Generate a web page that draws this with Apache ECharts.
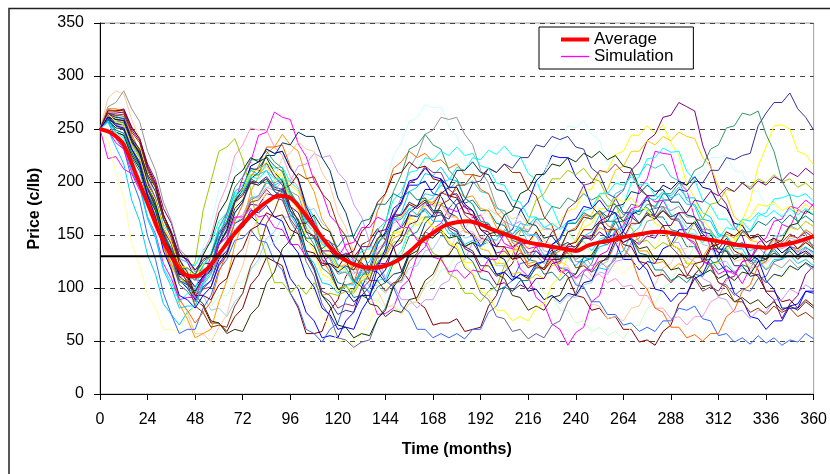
<!DOCTYPE html>
<html>
<head>
<meta charset="utf-8">
<script src="https://cdn.jsdelivr.net/npm/echarts@6/dist/echarts.min.js"></script>
<style>
  html, body { margin: 0; padding: 0; background: #fff; }
  #chart { width: 830px; height: 474px; }
</style>
</head>
<body>
<div id="chart"></div>
<script>
// months of the simulated paths (read every 4 months)
var months = [0,4,8,12,16,20,24,28,32,36,40,44,48,52,56,60,64,68,72,76,80,84,88,92,96,100,104,108,112,116,
  120,124,128,132,136,140,144,148,152,156,160,164,168,172,176,180,184,188,192,196,200,204,208,212,216,220,224,228,232,236,
  240,244,248,252,256,260,264,268,272,276,280,284,288,292,296,300,304,308,312,316,320,324,328,332,336,340,344,348,352,356,360];

// average path (read every 6 months)
var avgMonths = [0,6,12,18,24,30,36,42,48,54,60,66,72,78,84,90,96,102,108,114,120,126,132,138,144,150,156,162,168,174,
  180,186,192,198,204,210,216,222,228,234,240,246,252,258,264,270,276,282,288,294,300,306,312,318,324,330,336,342,348,354,360];
var average = [250,246,235,208,180,152,130,114,111,118,132,147,160,172,181,187,185,173,158,143,
  131,124,120,119,121,126,134,144,152,159,162,163,160,155,151,147,143,141,139,137,
  135,140,143,145,148,150,152,153,152,150,148,146,144,142,140,139,138,140,142,145,149];

var longRun = 130;

// simulated price paths, c/lb
var sim01 = [250,222,224,212,208,192,188,166,155,134, 128,111,108,106,131,144,171,181,204,219, 244,247,266,261,259,236,224,201,190,168,
  160,137,126,104,95,75,76,81,101,108, 131,139,156,161,175,172,178,166,169,156, 155,142,138,118,111,91,85,66,61,46,
  58,63,87,93,120,127,155,163,193,203, 229,227,226,200,192,166,162,137,134,115, 116,104,119,120,137,140,160,157,174,170, 180];
var sim02 = [250,261,258,257,239,233,207,196,166,151, 124,113,95,99,101,122,130,152,158,180, 185,201,200,211,197,191,168,161,139,134,
  118,117,107,111,112,129,135,151,153,166, 163,168,157,155,141,140,124,124,114,123, 121,134,135,139,138,154,155,157,163,173,
  175,192,193,209,211,226,229,244,244,253, 246,254,237,225,197,185,165,155,137,137, 139,164,182,215,233,253,254,250,229,226, 216];
var sim03 = [250,265,256,252,233,221,195,184,160,149, 128,124,121,136,143,163,171,189,192,207, 206,217,213,214,200,193,175,166,146,140,
  122,119,105,105,96,107,109,127,135,155, 163,181,185,200,202,214,211,223,221,230, 226,234,225,224,208,202,183,177,159,154,
  143,144,135,146,149,169,178,199,205,222, 223,232,228,229,210,202,183,178,165,165, 155,163,154,168,171,184,185,188,186,189, 181];
var sim04 = [250,268,267,269,252,241,217,202,175,161, 135,125,109,111,115,134,143,161,165,179, 178,189,187,194,183,180,165,163,147,144,
  132,131,121,124,115,123,123,138,143,160, 163,177,179,190,187,189,176,173,160,160, 149,151,139,143,133,135,127,136,126,137,
  137,149,149,163,167,185,192,211,219,239, 245,261,263,275,271,267,235,215,189,179, 158,149,127,117,96,89,71,85,93,113, 121];
var sim05 = [250,262,253,250,229,217,192,179,154,142, 119,109,89,83,67,67,59,73,81,103, 112,129,125,121,95,81,57,57,59,79,
  89,111,121,141,145,156,145,139,117,107, 87,81,65,67,67,71,59,61,63,83, 93,115,123,141,143,153,141,137,117,111,
  93,91,79,81,71,73,61,61,49,51, 46,59,65,85,93,113,121,137,137,147, 135,131,115,111,97,97,87,89,81,89, 83];
var sim06 = [250,259,247,244,223,210,185,171,144,131, 109,104,95,109,119,145,159,183,193,211, 213,224,215,210,189,179,157,147,127,121,
  105,103,91,93,89,101,105,123,131,149, 153,167,167,178,175,184,180,183,173,173, 161,159,145,142,127,125,113,115,107,115,
  113,125,128,143,147,162,163,175,172,176, 167,167,155,153,139,139,127,127,117,121, 114,122,119,129,127,137,129,139,131,138, 134];
var sim07 = [250,264,254,249,228,215,189,174,147,131, 107,100,89,101,107,127,135,153,157,168, 161,159,140,131,109,99,77,69,53,55,
  53,69,77,101,115,141,153,175,181,197, 197,201,189,187,171,167,153,151,140,143, 139,151,155,173,181,201,209,225,223,223,
  205,197,177,169,149,143,127,127,117,125, 123,137,141,155,155,163,151,145,125,115, 95,89,73,71,61,69,69,83,85,97, 95];
var sim08 = [250,249,233,217,183,163,131,113,85,75, 65,77,83,103,113,133,141,161,167,185, 187,199,197,201,187,181,161,153,135,129,
  115,115,105,113,115,133,141,163,171,191, 195,208,206,214,203,201,185,179,163,161, 149,153,150,161,159,167,157,155,141,139,
  125,125,115,119,117,131,135,151,157,173, 175,189,187,195,185,185,171,167,151,149, 137,137,125,127,117,127,127,137,134,139, 132];
var sim09 = [250,263,259,255,235,221,193,175,145,127, 107,107,109,139,161,193,203,215,205,199, 177,168,149,145,131,131,119,119,107,107,
  99,109,113,135,149,179,197,225,237,257, 261,273,270,271,253,243,221,211,189,181, 163,161,157,171,177,197,207,229,237,253,
  251,258,245,239,217,207,187,181,165,163, 153,163,165,183,189,205,209,223,223,225, 211,209,193,191,177,179,169,173,165,173, 169];
var sim10 = [250,258,249,246,225,213,187,171,143,127, 103,97,83,87,83,93,93,105,105,119, 123,139,143,157,155,163,155,155,141,137,
  121,117,101,99,87,89,81,85,77,87, 87,101,103,117,119,133,133,143,139,143, 135,139,127,125,111,109,95,93,79,79,
  67,69,59,63,55,59,52,63,65,81, 85,101,105,121,125,141,143,153,149,151, 139,139,127,129,119,123,115,121,117,123, 118];
var sim11 = [250,239,209,185,142,121,93,81,61,61, 59,75,83,105,115,137,145,163,167,181, 181,189,179,173,151,137,111,97,73,63,
  49,51,46,59,67,89,99,121,131,153, 161,177,177,187,179,179,165,161,145,143, 131,133,125,133,131,143,143,153,149,153,
  143,143,131,131,119,121,113,121,121,135, 137,153,157,171,171,179,171,171,157,153, 137,133,119,119,109,113,109,119,117,127, 123];
var sim12 = [250,260,257,256,237,227,203,191,165,151, 127,117,97,93,79,81,73,87,95,117, 127,147,153,167,167,177,173,175,161,155,
  137,131,115,113,101,103,95,105,105,119, 121,135,137,149,147,155,147,149,137,135, 121,121,109,109,97,99,89,93,85,93,
  91,103,105,121,125,141,145,159,161,171, 167,175,167,169,157,155,141,139,125,125, 115,119,115,125,125,137,137,147,145,153, 148];
var sim13 = [250,260,254,252,232,219,191,173,145,131, 111,111,111,133,149,179,197,225,235,251, 249,249,233,225,205,195,173,163,143,137,
  121,121,113,121,121,137,143,161,165,179, 177,185,177,179,167,167,153,153,143,147, 141,149,147,157,155,163,155,155,141,139,
  125,123,111,113,105,109,101,103,93,93, 81,81,71,73,65,73,73,87,91,107, 111,125,127,139,137,145,137,141,133,137, 130];
var sim14 = [250,263,259,255,235,223,197,183,157,145, 127,125,115,123,125,141,147,165,169,185, 185,195,192,201,201,215,217,227,223,225,
  209,201,179,167,143,131,109,103,89,89, 81,89,89,103,107,123,127,143,145,157, 155,163,159,163,151,149,135,133,119,119,
  109,113,107,115,113,125,127,141,143,153, 149,153,143,143,129,125,109,105,91,89, 77,79,71,79,77,89,89,99,95,103, 98];
var sim15 = [250,279,286,283,259,241,207,183,147,123, 91,77,57,57,49,63,75,103,121,151, 167,193,203,223,227,238,231,229,209,197,
  171,157,133,123,103,97,83,83,75,85, 87,103,109,127,133,151,155,169,167,175, 169,173,165,169,159,159,145,141,125,121,
  105,101,85,83,71,73,69,81,83,99, 103,119,123,137,137,147,143,147,137,137, 125,127,119,127,123,131,127,133,127,134, 127];
var sim16 = [250,257,241,231,203,183,149,127,95,75, 57,61,61,81,93,117,127,145,147,155, 145,143,125,117,95,83,61,57,49,61,
  67,89,99,117,117,121,107,101,83,77, 61,61,53,57,53,57,52,61,61,77, 83,101,107,123,125,135,129,131,119,117,
  103,101,87,87,75,75,65,67,59,63, 59,69,69,81,79,83,71,69,55,57, 49,53,47,55,48,53,46,51,49,57, 52];
var sim17 = [250,265,262,259,239,225,197,179,149,131, 107,101,91,105,115,141,155,181,193,215, 219,231,227,229,213,203,179,167,145,137,
  121,119,107,113,113,129,135,153,159,175, 177,189,187,197,193,201,197,201,191,189, 175,173,159,157,143,143,131,133,125,135,
  135,149,153,169,173,189,193,207,207,217, 213,217,205,201,183,177,159,153,137,137, 127,131,127,137,137,149,149,159,155,163, 158];
var sim18 = [250,260,253,250,229,215,187,169,139,123, 105,107,125,173,201,229,233,241,221,193, 153,129,105,105,95,103,94,105,93,95,
  93,97,95,107,109,125,129,143,145,155, 147,147,133,129,113,109,95,95,87,97, 101,121,131,153,163,183,189,203,203,211,
  207,213,203,201,185,179,161,157,143,145, 137,143,139,149,149,163,165,179,181,193, 191,199,195,203,199,207,200,203,195,199, 192];
var sim19 = [250,264,260,257,237,223,195,177,147,131, 109,105,97,109,117,141,155,179,189,207, 207,215,205,201,183,175,155,149,133,131,
  119,123,117,127,129,145,149,165,167,179, 177,185,179,181,169,167,153,151,137,135, 123,123,113,115,107,113,109,121,123,139,
  145,163,169,187,193,211,215,229,229,239, 235,243,239,247,243,241,223,215,195,187, 167,161,145,143,135,145,145,157,155,163, 158];
var sim20 = [250,268,267,265,243,227,195,173,139,117, 85,71,53,57,61,87,107,141,161,191, 205,227,233,245,235,229,205,191,165,153,
  133,129,117,121,117,129,131,147,151,167, 169,181,181,191,187,193,185,187,175,173, 157,153,137,135,123,125,117,125,123,135,
  135,147,147,157,153,157,147,147,135,135, 123,125,117,123,119,129,129,141,141,151, 147,153,145,149,139,141,133,139,135,143, 139];
var sim21 = [250,269,269,267,245,229,197,175,141,119, 89,79,67,77,87,115,133,163,179,205, 215,233,233,235,215,201,173,155,127,115,
  99,103,105,127,143,173,189,213,219,229, 223,227,219,221,213,217,207,207,193,189, 171,163,143,137,121,121,117,131,135,153,
  157,169,167,171,159,155,137,129,107,99, 81,77,63,63,53,56,50,57,57,73, 79,97,103,121,125,139,139,149,147,155, 150];
var sim22 = [250,264,263,262,241,227,197,177,147,129, 103,97,87,99,107,131,145,171,181,199, 197,203,191,185,163,151,125,111,85,73,
  53,51,44,49,51,71,81,103,113,133, 139,153,149,153,141,137,119,113,95,89, 73,71,59,61,52,57,53,65,69,87,
  95,115,123,143,149,165,167,179,177,183, 175,177,165,163,147,143,125,121,105,103, 93,99,97,109,111,125,127,139,137,145, 140];
var sim23 = [250,271,275,286,269,257,229,211,181,163, 137,129,115,118,115,129,135,155,163,183, 187,201,199,203,191,187,167,157,135,127,
  113,115,107,115,115,133,143,169,185,213, 225,245,249,261,259,261,245,235,211,199, 177,169,149,145,131,131,123,131,127,135,
  127,131,121,125,119,129,129,143,147,163, 165,177,173,177,167,167,155,155,143,143, 131,133,123,125,117,123,119,127,119,123, 117];
var sim24 = [250,264,261,260,241,231,205,191,165,151, 131,127,117,123,123,141,149,171,181,203, 209,225,225,237,235,247,243,243,223,211,
  185,171,147,137,117,115,105,113,115,133, 141,161,169,189,195,211,211,219,209,207, 193,191,177,175,161,159,147,149,139,143,
  137,147,147,161,163,177,179,191,189,197, 191,193,181,181,169,167,153,151,137,135, 121,121,111,113,105,113,111,121,117,124, 119];
var sim25 = [250,261,257,256,237,225,197,181,153,137, 115,113,107,121,131,157,171,195,205,221, 221,229,219,213,191,179,153,141,119,113,
  99,101,97,111,119,145,161,191,207,231, 235,245,235,231,211,203,185,179,163,161, 149,153,147,155,153,165,165,177,175,185,
  181,189,183,187,177,179,169,173,169,179, 177,189,189,199,197,211,215,231,235,251, 253,265,263,267,245,229,201,187,161,151, 137];
var sim26 = [250,258,247,244,225,213,187,173,147,133, 113,113,111,131,145,171,183,205,211,223, 219,223,209,201,177,163,135,119,93,83,
  65,63,53,57,55,71,79,101,111,131, 135,149,147,155,147,149,139,143,139,151, 153,169,173,189,193,207,207,217,215,223,
  219,227,223,229,221,225,215,213,195,187, 167,159,141,137,123,123,113,117,109,113, 107,115,113,125,127,141,145,159,161,173, 169];
var sim27 = [250,259,255,254,237,229,207,195,169,153, 127,115,93,85,69,67,57,61,59,75, 83,105,115,137,145,161,161,169,157,153,
  135,127,107,101,85,83,73,79,77,89, 91,107,113,129,131,143,139,143,131,129, 113,109,93,91,79,83,79,91,93,109,
  113,129,131,143,141,149,143,147,137,139, 127,127,117,119,109,111,101,103,93,95, 87,91,85,89,81,87,79,83,79,87, 81];
var sim28 = [250,265,263,264,247,237,211,195,165,147, 119,105,83,77,63,65,63,83,95,121, 135,161,173,193,197,208,203,205,189,181,
  159,149,129,123,107,107,97,105,107,125, 133,153,161,179,183,197,197,207,205,213, 209,217,209,209,193,187,167,159,139,133,
  119,121,115,125,127,143,147,161,161,171, 167,173,165,165,151,147,129,123,105,101, 87,87,77,81,75,83,77,81,73,77, 71];
var sim29 = [250,263,259,258,239,227,201,185,157,141, 115,107,93,99,101,121,131,153,163,181, 183,193,185,183,165,155,131,119,97,93,
  81,85,83,99,107,131,145,169,179,199, 203,215,209,209,193,187,169,163,147,145, 133,135,127,133,129,139,139,153,157,175,
  181,197,199,211,209,217,209,209,193,187, 167,159,139,131,113,109,97,101,97,109, 111,125,127,139,137,147,143,151,147,153, 147];
var sim30 = [250,261,255,254,235,223,195,177,147,131, 107,103,97,111,121,147,161,185,195,213, 211,218,205,197,173,159,131,117,93,87,
  75,79,77,93,101,123,133,153,157,169, 167,175,167,169,165,179,183,199,201,213, 209,217,213,223,223,235,233,243,240,243,
  233,231,213,207,189,185,171,171,161,169, 169,183,183,193,191,201,199,211,211,223, 221,225,227,253,265,275,275,284,269,261, 249];
var sim31 = [250,259,251,250,231,219,193,177,149,133, 111,105,97,109,117,141,153,175,183,199, 197,203,193,191,173,165,145,139,123,123,
  115,121,117,129,131,147,151,167,169,181, 177,183,173,173,159,155,139,135,121,121, 111,115,107,113,109,119,119,133,137,153,
  155,167,165,173,167,171,163,167,161,169, 165,173,167,171,161,161,147,145,133,135, 127,131,125,131,127,133,129,135,127,133, 127];
var sim32 = [250,261,259,258,239,227,199,181,151,135, 113,111,101,111,117,141,155,181,193,215, 219,231,227,229,213,203,177,161,133,119,
  99,97,87,93,93,109,117,139,149,171, 177,193,193,203,195,195,179,173,155,149, 131,127,111,109,97,99,89,93,87,95,
  93,105,107,123,129,147,153,169,173,187, 187,197,193,201,197,205,195,193,179,175, 161,159,147,149,139,141,133,139,131,135, 129];
var sim33 = [250,249,237,231,209,195,167,151,123,109, 89,91,91,109,119,141,149,167,167,175, 167,169,157,155,141,141,129,131,123,131,
  129,141,143,157,157,167,163,167,157,157, 145,143,129,127,115,117,109,117,115,127, 127,139,137,145,137,139,127,127,115,117,
  109,117,117,131,135,153,159,175,177,187, 181,183,169,165,147,141,125,123,113,117, 113,125,127,143,147,163,165,177,175,183, 177];
var sim34 = [250,264,257,254,235,223,197,183,157,143, 121,119,111,123,129,151,163,185,193,211, 211,219,209,205,185,173,147,135,113,109,
  97,101,97,109,113,131,137,153,153,163, 159,165,157,157,143,139,121,115,97,93, 79,79,69,73,69,81,85,103,111,131,
  139,157,161,175,175,185,181,185,175,175, 161,157,141,137,123,123,115,123,123,139, 145,163,167,179,177,181,173,177,171,179, 173];
var sim35 = [250,258,247,241,217,199,167,149,119,105, 87,95,99,121,133,157,167,187,191,205, 203,211,203,203,187,181,163,157,141,139,
  127,131,125,135,137,155,163,183,191,209, 211,223,221,229,225,233,225,227,215,213, 199,197,183,181,167,167,157,161,155,163,
  161,173,175,189,189,199,197,205,197,199, 187,185,169,165,151,151,143,151,147,157, 155,165,163,171,167,173,167,175,169,175, 169];
var sim36 = [250,265,265,266,249,239,213,197,169,153, 131,127,117,127,131,151,161,181,187,201, 199,205,195,193,177,171,153,149,135,135,
  127,133,129,139,139,153,155,169,169,179, 175,181,171,171,157,153,137,133,117,115, 103,105,97,103,99,109,109,123,125,139,
  139,149,145,153,147,151,143,147,141,149, 147,159,159,171,171,183,181,191,187,195, 191,199,193,201,197,205,201,209,205,213, 207];
var sim37 = [250,267,267,268,251,241,215,199,169,151, 123,111,93,93,89,103,109,129,137,155, 159,171,167,169,155,151,135,133,121,123,
  119,131,135,153,161,181,189,207,209,219, 213,215,203,201,187,185,171,169,155,153, 139,139,127,129,119,123,117,127,127,141,
  143,155,155,163,155,155,141,139,125,123, 111,113,105,113,111,123,125,139,141,153, 149,155,147,151,143,147,139,145,137,143, 137];
var sim38 = [250,259,249,246,227,215,189,175,149,137, 117,119,113,125,131,153,163,183,189,203, 199,203,191,187,169,163,147,147,137,143,
  139,149,149,163,165,179,179,189,185,191, 183,185,173,171,155,149,131,125,109,107, 97,101,97,107,107,121,125,141,145,161,
  161,171,167,173,163,163,149,147,133,131, 117,117,107,111,105,113,111,123,125,139, 141,153,153,163,159,167,161,169,163,168, 162];
var sim39 = [250,261,253,251,231,217,187,167,135,117, 93,89,81,93,101,123,133,153,159,173, 171,178,167,163,143,133,111,101,81,75,
  61,63,61,79,91,119,137,167,181,201, 203,213,205,203,185,177,157,149,131,127, 113,115,107,113,111,123,125,141,147,163,
  165,177,175,183,173,171,153,145,125,117, 99,97,87,95,95,109,113,129,131,143, 139,143,131,127,107,99,81,81,81,97, 97];
var sim40 = [250,257,243,235,211,195,165,147,117,101, 81,83,83,105,121,151,167,191,197,211, 207,211,197,191,169,157,133,123,105,103,
  95,103,103,119,125,143,149,165,165,175, 169,173,163,163,151,151,141,145,139,147, 145,155,151,157,149,151,139,139,127,129,
  121,129,127,139,141,155,157,171,173,185, 183,191,185,189,179,179,165,163,149,149, 139,143,135,139,131,135,127,131,123,127, 121];

var sims = [sim01, sim02, sim03, sim04, sim05, sim06, sim07, sim08, sim09, sim10,
  sim11, sim12, sim13, sim14, sim15, sim16, sim17, sim18, sim19, sim20,
  sim21, sim22, sim23, sim24, sim25, sim26, sim27, sim28, sim29, sim30,
  sim31, sim32, sim33, sim34, sim35, sim36, sim37, sim38, sim39, sim40];

// Excel style series colours
var simColors = ['#FF00FF','#FFFF00','#00FFFF','#800080','#800000','#008080','#0000FF','#00CCFF','#CCFFFF','#CCFFCC',
  '#FFFF99','#99CCFF','#FF99CC','#CC99FF','#FFCC99','#3366FF','#33CCCC','#99CC00','#FFCC00','#FF9900',
  '#FF6600','#666699','#969696','#003366','#339966','#003300','#333300','#993300','#993366','#333399',
  '#333333','#000080','#FF00FF','#FFFF00','#00FFFF','#800080','#800000','#008080','#0000FF','#00CCFF'];

var font = "'Liberation Sans', Arial, sans-serif";
var myChart = echarts.init(document.getElementById('chart'));

var series = sims.map(function (s, k) {
  return {
    name: 'Simulation',
    type: 'line',
    data: months.map(function (m, i) { return [m, s[i]]; }),
    symbol: 'none',
    silent: true,
    lineStyle: { color: simColors[k], width: 1 },
    itemStyle: { color: simColors[k] }
  };
});

series.push({
  name: 'Average',
  type: 'line',
  data: avgMonths.map(function (m, i) { return [m, average[i]]; }),
  symbol: 'none',
  smooth: 0.3,
  lineStyle: { color: '#FF0000', width: 4 },
  itemStyle: { color: '#FF0000' }
});

series.push({
  name: 'Long run',
  type: 'line',
  data: [[0, longRun], [360, longRun]],
  symbol: 'none',
  lineStyle: { color: '#000', width: 2 },
  itemStyle: { color: '#000' }
});

var option = {
  animation: false,
  backgroundColor: '#fff',
  grid: {
    left: 100, right: 15, top: 23, bottom: 80,
    show: true, borderColor: '#a0a0a0', borderWidth: 1
  },
  legend: {
    data: [
      { name: 'Average', icon: 'path://M0,0H28V4H0Z' },
      { name: 'Simulation', icon: 'path://M0,0H28V1.3H0Z' }
    ],
    orient: 'vertical',
    left: 539, top: 27,
    padding: [4, 20, 4, 22],
    itemGap: 0,
    itemWidth: 28, itemHeight: 14,
    borderColor: '#000', borderWidth: 1,
    backgroundColor: '#fff',
    textStyle: { fontFamily: font, fontSize: 17, color: '#000', lineHeight: 16 }
  },
  xAxis: {
    type: 'value',
    min: 0, max: 360, interval: 24,
    name: 'Time (months)',
    nameLocation: 'middle',
    nameGap: 48,
    nameTextStyle: { fontFamily: font, fontSize: 16, fontWeight: 'bold', color: '#000' },
    axisLine: { show: true, onZero: false, lineStyle: { color: '#000', width: 1 } },
    axisTick: { show: true, length: 6, lineStyle: { color: '#000' } },
    axisLabel: { fontFamily: font, fontSize: 16, color: '#000', margin: 18 },
    splitLine: { show: false }
  },
  yAxis: {
    type: 'value',
    min: 0, max: 350, interval: 50,
    name: 'Price (c/lb)',
    nameLocation: 'middle',
    nameGap: 57,
    nameTextStyle: { fontFamily: font, fontSize: 16, fontWeight: 'bold', color: '#000' },
    axisLine: { show: true, lineStyle: { color: '#000', width: 1 } },
    axisTick: { show: true, length: 6, lineStyle: { color: '#000' } },
    axisLabel: { fontFamily: font, fontSize: 16, color: '#000', margin: 16 },
    splitLine: { show: true, lineStyle: { color: '#444', width: 1, type: [5, 5] } }
  },
  graphic: [{
    type: 'rect',
    silent: true,
    shape: { x: 9, y: 8.5, width: 1000, height: 1000 },
    style: { fill: 'none', stroke: '#222', lineWidth: 1.5 }
  }],
  series: series
};

myChart.setOption(option);
</script>
</body>
</html>
